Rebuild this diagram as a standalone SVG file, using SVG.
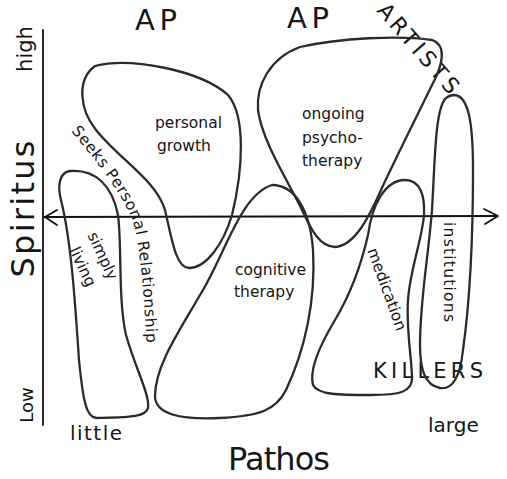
<svg xmlns="http://www.w3.org/2000/svg" width="507" height="479" viewBox="0 0 507 479">
<style>
.blob{fill:none;stroke:#2b2b2b;stroke-width:2.3;stroke-linejoin:round}
.ax{fill:none;stroke:#111;stroke-width:1.8;stroke-linecap:round;stroke-linejoin:round}
text{font-family:"DejaVu Sans","Liberation Sans",sans-serif;fill:#151515}
.lbl{font-size:15.5px}
.big{font-size:32px}
.hdr{font-size:29px}
</style>
<defs>
<path id="seekPath" d="M71,131 C98,163 122,193 133,222 C141,248 144,300 147,350"/>
</defs>
<rect width="507" height="479" fill="#fff"/>

<g id="connectors">
<line class="ax" x1="43" y1="30" x2="43" y2="425"/>
<line class="ax" x1="44" y1="217" x2="497" y2="216"/>
<polyline class="ax" points="57,210 45,217 57,225"/>
<polyline class="ax" points="484,209 498,216 485,224"/>
</g>

<g id="axis-labels">
<text transform="translate(32,49) rotate(-90)" text-anchor="middle" font-size="21">high</text>
<text transform="translate(34,209) rotate(-90)" text-anchor="middle" class="big" textLength="137" lengthAdjust="spacing">Spiritus</text>
<text transform="translate(33,405) rotate(-90)" text-anchor="middle" font-size="18">Low</text>
<text x="70" y="440" font-size="20" textLength="52" lengthAdjust="spacing">little</text>
<text x="428" y="432" font-size="20">large</text>
<text x="228" y="470" class="big" textLength="102" lengthAdjust="spacing">Pathos</text>
<text x="135" y="30" class="hdr" textLength="42" lengthAdjust="spacing">AP</text>
<text x="287" y="28" class="hdr" textLength="42" lengthAdjust="spacing">AP</text>
<text transform="translate(376,11) rotate(49)" font-size="22" textLength="112" lengthAdjust="spacing">ARTISTS</text>
<text x="373" y="378" font-size="21" textLength="110" lengthAdjust="spacing">KILLERS</text>
</g>

<g id="simply-living">
<path class="blob" d="M70,171 C95,169 112,185 118,215 C122,245 118,300 126,335 C136,370 150,395 148,408 C146,417 130,417 97,418 C86,418 83,400 79,360 C75,300 71,240 61,200 C57,185 60,172 70,171 Z"/>
<text transform="translate(98,258) rotate(65)" text-anchor="middle" class="lbl">simply</text>
<text transform="translate(78,269) rotate(65)" text-anchor="middle" class="lbl">living</text>
</g>

<g id="seeks-personal-relationship">
<text class="lbl" letter-spacing="0.6"><textPath href="#seekPath">Seeks Personal Relationship</textPath></text>
</g>

<g id="personal-growth">
<path class="blob" d="M95,66 C130,57 200,70 228,95 C246,116 243,170 232,215 C223,245 206,268 189,268 C176,268 172,240 165,210 C156,180 120,160 96,130 C80,110 76,80 95,66 Z"/>
<text x="155" y="128" class="lbl">personal</text>
<text x="157" y="151" class="lbl">growth</text>
</g>

<g id="ongoing-psychotherapy">
<path class="blob" d="M300,47 C340,38 400,35 432,40 C447,45 443,65 432,85 C415,120 395,160 381,190 C370,215 355,246 335,247 C318,247 310,226 300,206 C285,176 262,140 258,110 C256,85 270,58 300,47 Z"/>
<text x="302" y="119" class="lbl">ongoing</text>
<text x="302" y="143" class="lbl">psycho-</text>
<text x="302" y="166" class="lbl">therapy</text>
</g>

<g id="cognitive-therapy">
<path class="blob" d="M272,185 C295,185 310,210 313,250 C316,300 305,350 286,390 C276,410 260,416 220,418 C180,420 155,414 155,396 C155,366 180,330 200,295 C225,255 240,195 272,185 Z"/>
<text x="235" y="275" class="lbl">cognitive</text>
<text x="234" y="297" class="lbl">therapy</text>
</g>

<g id="medication">
<path class="blob" d="M405,180 C420,180 425,195 424,215 C422,240 410,270 408,300 C406,330 412,360 412,378 C412,392 400,395 370,395 C340,395 318,395 313,385 C309,370 320,345 335,320 C350,295 360,270 368,235 C372,205 385,180 405,180 Z"/>
<text transform="translate(382,291) rotate(70)" text-anchor="middle" class="lbl">medication</text>
</g>

<g id="institutions">
<path class="blob" d="M455,95 C468,97 473,120 473,170 C473,230 470,300 463,350 C460,378 452,390 440,388 C425,385 420,370 420,345 C420,300 428,260 432,210 C435,160 435,112 445,99 C448,96 452,95 455,95 Z"/>
<text transform="translate(444,272) rotate(90)" text-anchor="middle" class="lbl" textLength="100" lengthAdjust="spacing">institutions</text>
</g>
</svg>
